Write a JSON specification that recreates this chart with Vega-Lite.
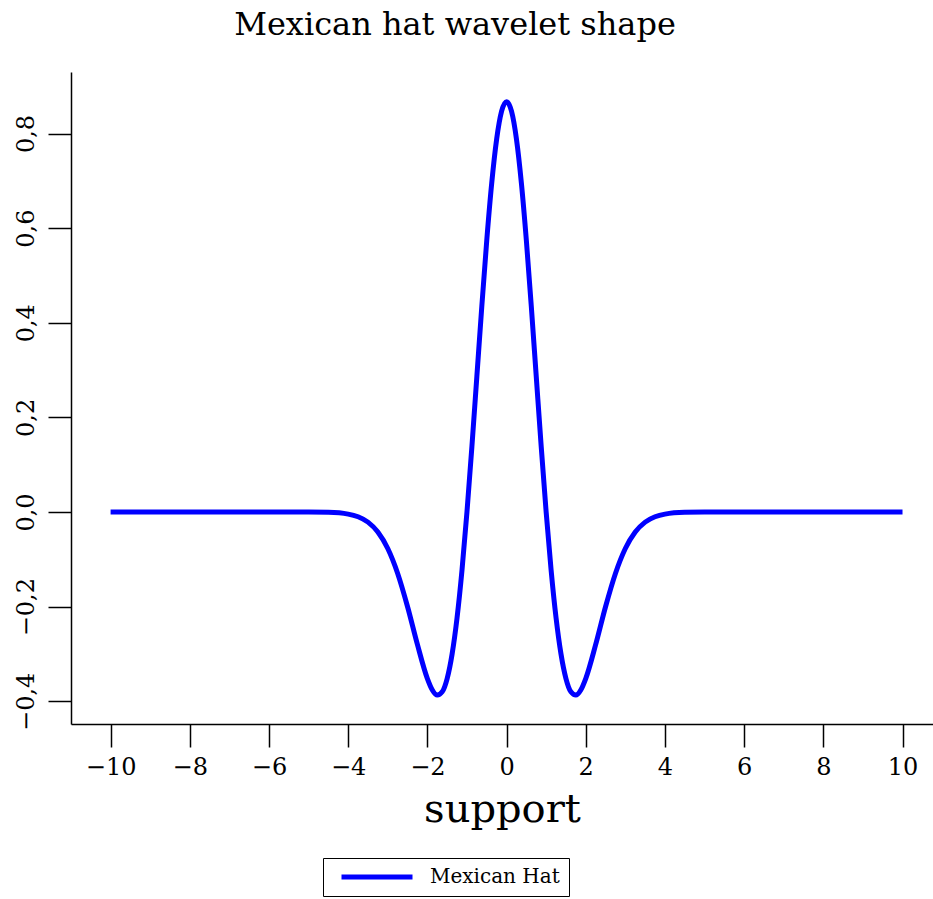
{
  "$schema": "https://vega.github.io/schema/vega-lite/v6.json",
  "width": 862,
  "height": 652,
  "autosize": "none",
  "padding": {"left": 71, "top": 72, "right": 0, "bottom": 175},
  "background": "white",
  "title": {
    "text": "Mexican hat wavelet shape",
    "font": "DejaVu Serif",
    "fontSize": 32,
    "fontWeight": "normal",
    "color": "black",
    "anchor": "middle",
    "dx": -47,
    "offset": 30
  },
  "data": {
    "values": [
      {"x": -10, "y": 0}, {"x": -8, "y": 0}, {"x": -6, "y": 0}, {"x": -5, "y": -0.0001},
      {"x": -4.5, "y": -0.0007}, {"x": -4, "y": -0.0044}, {"x": -3.75, "y": -0.0100},
      {"x": -3.5, "y": -0.0213}, {"x": -3.25, "y": -0.0422}, {"x": -3, "y": -0.0771},
      {"x": -2.75, "y": -0.1298}, {"x": -2.5, "y": -0.2001}, {"x": -2.25, "y": -0.2804},
      {"x": -2, "y": -0.3521}, {"x": -1.875, "y": -0.3762}, {"x": -1.75, "y": -0.3869},
      {"x": -1.625, "y": -0.3800}, {"x": -1.5, "y": -0.3520}, {"x": -1.375, "y": -0.3001},
      {"x": -1.25, "y": -0.2234}, {"x": -1.125, "y": -0.1224}, {"x": -1, "y": 0},
      {"x": -0.875, "y": 0.1386}, {"x": -0.75, "y": 0.2864}, {"x": -0.625, "y": 0.4347},
      {"x": -0.5, "y": 0.5741}, {"x": -0.375, "y": 0.6947}, {"x": -0.25, "y": 0.7881},
      {"x": -0.125, "y": 0.8471}, {"x": 0, "y": 0.8673},
      {"x": 0.125, "y": 0.8471}, {"x": 0.25, "y": 0.7881}, {"x": 0.375, "y": 0.6947},
      {"x": 0.5, "y": 0.5741}, {"x": 0.625, "y": 0.4347}, {"x": 0.75, "y": 0.2864},
      {"x": 0.875, "y": 0.1386}, {"x": 1, "y": 0}, {"x": 1.125, "y": -0.1224},
      {"x": 1.25, "y": -0.2234}, {"x": 1.375, "y": -0.3001}, {"x": 1.5, "y": -0.3520},
      {"x": 1.625, "y": -0.3800}, {"x": 1.75, "y": -0.3869}, {"x": 1.875, "y": -0.3762},
      {"x": 2, "y": -0.3521}, {"x": 2.25, "y": -0.2804}, {"x": 2.5, "y": -0.2001},
      {"x": 2.75, "y": -0.1298}, {"x": 3, "y": -0.0771}, {"x": 3.25, "y": -0.0422},
      {"x": 3.5, "y": -0.0213}, {"x": 3.75, "y": -0.0100}, {"x": 4, "y": -0.0044},
      {"x": 4.5, "y": -0.0007}, {"x": 5, "y": -0.0001}, {"x": 6, "y": 0},
      {"x": 8, "y": 0}, {"x": 10, "y": 0}
    ]
  },
  "mark": {"type": "line", "interpolate": "monotone", "strokeWidth": 5},
  "encoding": {
    "x": {
      "field": "x",
      "type": "quantitative",
      "scale": {"domain": [-11, 10.77], "nice": false, "zero": false},
      "axis": {
        "title": "support",
        "values": [-10, -8, -6, -4, -2, 0, 2, 4, 6, 8, 10],
        "grid": false,
        "domainColor": "black",
        "domainWidth": 1.5,
        "tickColor": "black",
        "tickWidth": 1.5,
        "tickSize": 23,
        "labelFont": "DejaVu Serif",
        "labelFontSize": 24,
        "labelColor": "black",
        "labelPadding": 8,
        "labelFlush": false,
        "titleFont": "DejaVu Serif",
        "titleFontSize": 40,
        "titleFontWeight": "normal",
        "titleColor": "black",
        "titlePadding": 10
      }
    },
    "y": {
      "field": "y",
      "type": "quantitative",
      "scale": {"domain": [-0.448, 0.93], "nice": false, "zero": false},
      "axis": {
        "title": null,
        "values": [-0.4, -0.2, 0, 0.2, 0.4, 0.6, 0.8],
        "labelExpr": "replace(format(datum.value, '.1f'), '.', ',')",
        "grid": false,
        "domainColor": "black",
        "domainWidth": 1.5,
        "tickColor": "black",
        "tickWidth": 1.5,
        "tickSize": 23,
        "labelFont": "DejaVu Serif",
        "labelFontSize": 24,
        "labelColor": "black",
        "labelAngle": 270,
        "labelAlign": "center",
        "labelBaseline": "bottom",
        "labelPadding": 10,
        "labelFlush": false
      }
    },
    "color": {
      "datum": "Mexican Hat",
      "type": "nominal",
      "scale": {"range": ["#0000ff"]},
      "legend": {
        "title": null,
        "orient": "none",
        "legendX": 252,
        "legendY": 786,
        "strokeColor": "black",
        "fillColor": "white",
        "padding": 9,
        "clipHeight": 20,
        "symbolType": "M-3.55,0H3.55",
        "symbolSize": 400,
        "symbolStrokeWidth": 5,
        "symbolOffset": 32.5,
        "labelFont": "DejaVu Serif",
        "labelFontSize": 20,
        "labelColor": "black",
        "labelOffset": 40.5
      }
    }
  },
  "config": {"view": {"stroke": null}}
}
